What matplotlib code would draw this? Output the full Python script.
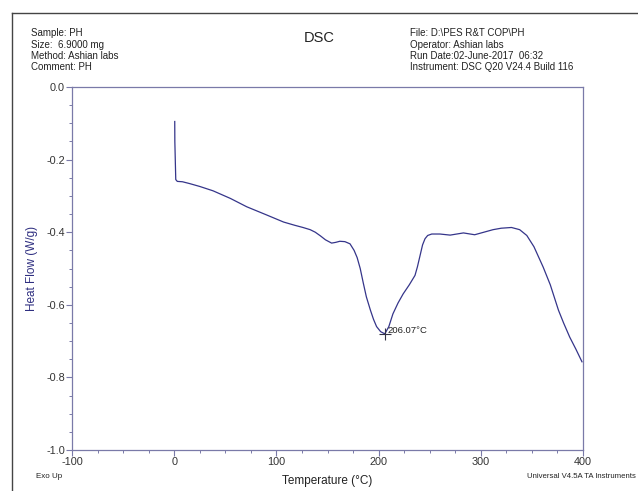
"""
    DSC thermogram for sample PH.
"""
import matplotlib
matplotlib.use("Agg")
import matplotlib.pyplot as plt
from matplotlib.ticker import MultipleLocator
from matplotlib.lines import Line2D

plt.rcParams['font.family'] = ['Liberation Sans', 'DejaVu Sans']
plt.rcParams['axes.unicode_minus'] = False

# temperature (C) and heat flow (W/g)
temperature = [0.5, 0.6, 1.5, 3, 8, 15, 25, 38, 55, 71, 90, 107, 118, 126, 133,
               138, 143, 148, 154, 158, 162, 167, 172, 176, 179, 182, 185, 188,
               192, 195, 198, 202, 206.07, 210, 214, 219, 224, 230, 235.6, 238,
               240.5, 243, 245.4, 248, 252, 260, 270, 283, 294, 303, 312, 320,
               330, 338, 345, 352, 361, 368, 376, 381, 387, 393, 399]
heat_flow = [-0.095, -0.15, -0.255, -0.260, -0.261, -0.266, -0.274, -0.286,
             -0.307, -0.330, -0.352, -0.372, -0.381, -0.387, -0.393, -0.400,
             -0.410, -0.421, -0.430, -0.428, -0.425, -0.426, -0.432, -0.450,
             -0.470, -0.500, -0.540, -0.578, -0.615, -0.640, -0.660, -0.674,
             -0.680, -0.660, -0.625, -0.595, -0.570, -0.545, -0.519, -0.495,
             -0.465, -0.435, -0.418, -0.409, -0.405, -0.405, -0.408, -0.402,
             -0.407, -0.400, -0.393, -0.389, -0.387, -0.393, -0.409, -0.440,
             -0.496, -0.545, -0.615, -0.650, -0.689, -0.722, -0.757]

peak_temp = 206.07
peak_flow = -0.680

left_info = ["Sample: PH", "Size:  6.9000 mg", "Method: Ashian labs", "Comment: PH"]
right_info = ["File: D:\\PES R&T COP\\PH", "Operator: Ashian labs",
              "Run Date:02-June-2017  06:32", "Instrument: DSC Q20 V24.4 Build 116"]

line_c = "#35358a"
spine_c = "#7a7aa8"

fig = plt.figure(figsize=(6.38, 4.91), dpi=100)
ax = fig.add_axes([0.1129, 0.0835, 0.8009, 0.7393])

ax.plot(temperature, heat_flow, color=line_c, lw=0.9)
ax.plot([peak_temp], [peak_flow], marker="+", color="#333344", ms=8, mew=0.8)
ax.text(peak_temp + 2.5, peak_flow + 0.01, "206.07°C", fontsize=6.8,
        color="#222222", va="center", ha="left")

ax.set_xlim(-100, 400)
ax.set_ylim(-1.0, 0.0)
ax.xaxis.set_major_locator(MultipleLocator(100))
ax.xaxis.set_minor_locator(MultipleLocator(25))
ax.yaxis.set_major_locator(MultipleLocator(0.2))
ax.yaxis.set_minor_locator(MultipleLocator(0.05))
ax.yaxis.set_major_formatter(plt.FuncFormatter(lambda v, p: "%.1f" % v))

ax.tick_params(axis="both", which="major", direction="out", length=4, width=0.8,
               color=spine_c, labelsize=7.8, labelcolor="#333333", pad=1)
ax.tick_params(axis="both", which="minor", direction="out", length=2.5, width=0.7,
               color=spine_c)
for s in ax.spines.values():
    s.set_color(spine_c)
    s.set_linewidth(0.9)

ax.set_ylabel("Heat Flow (W/g)", fontsize=8.5, color="#2e2e80", labelpad=6)
ax.set_xlabel("Temperature (°C)", fontsize=8.5, color="#222222", labelpad=6)

# header block
for i, t in enumerate(left_info):
    fig.text(31 / 638, 1 - (33 + 11.5 * i) / 491, t, fontsize=7,
             color="#222222", va="center", ha="left")
for i, t in enumerate(right_info):
    fig.text(410 / 638, 1 - (33 + 11.5 * i) / 491, t, fontsize=7,
             color="#222222", va="center", ha="left")
fig.text(319 / 638, 1 - 38 / 491, "DSC", fontsize=10.5, color="#222222",
         va="center", ha="center")

fig.text(36 / 638, 1 - 477 / 491, "Exo Up", fontsize=5.8, color="#222222",
         va="center", ha="left")
fig.text(636 / 638, 1 - 476 / 491, "Universal V4.5A TA Instruments", fontsize=5.6,
         color="#222222", va="center", ha="right")

# outer frame, left and top only
fig.add_artist(Line2D([12 / 638, 12 / 638], [0, 1 - 13 / 491],
                      transform=fig.transFigure, color="#444444", lw=1.0))
fig.add_artist(Line2D([12 / 638, 1], [1 - 13 / 491, 1 - 13 / 491],
                      transform=fig.transFigure, color="#444444", lw=1.0))

fig.savefig("out.png", dpi=100)
